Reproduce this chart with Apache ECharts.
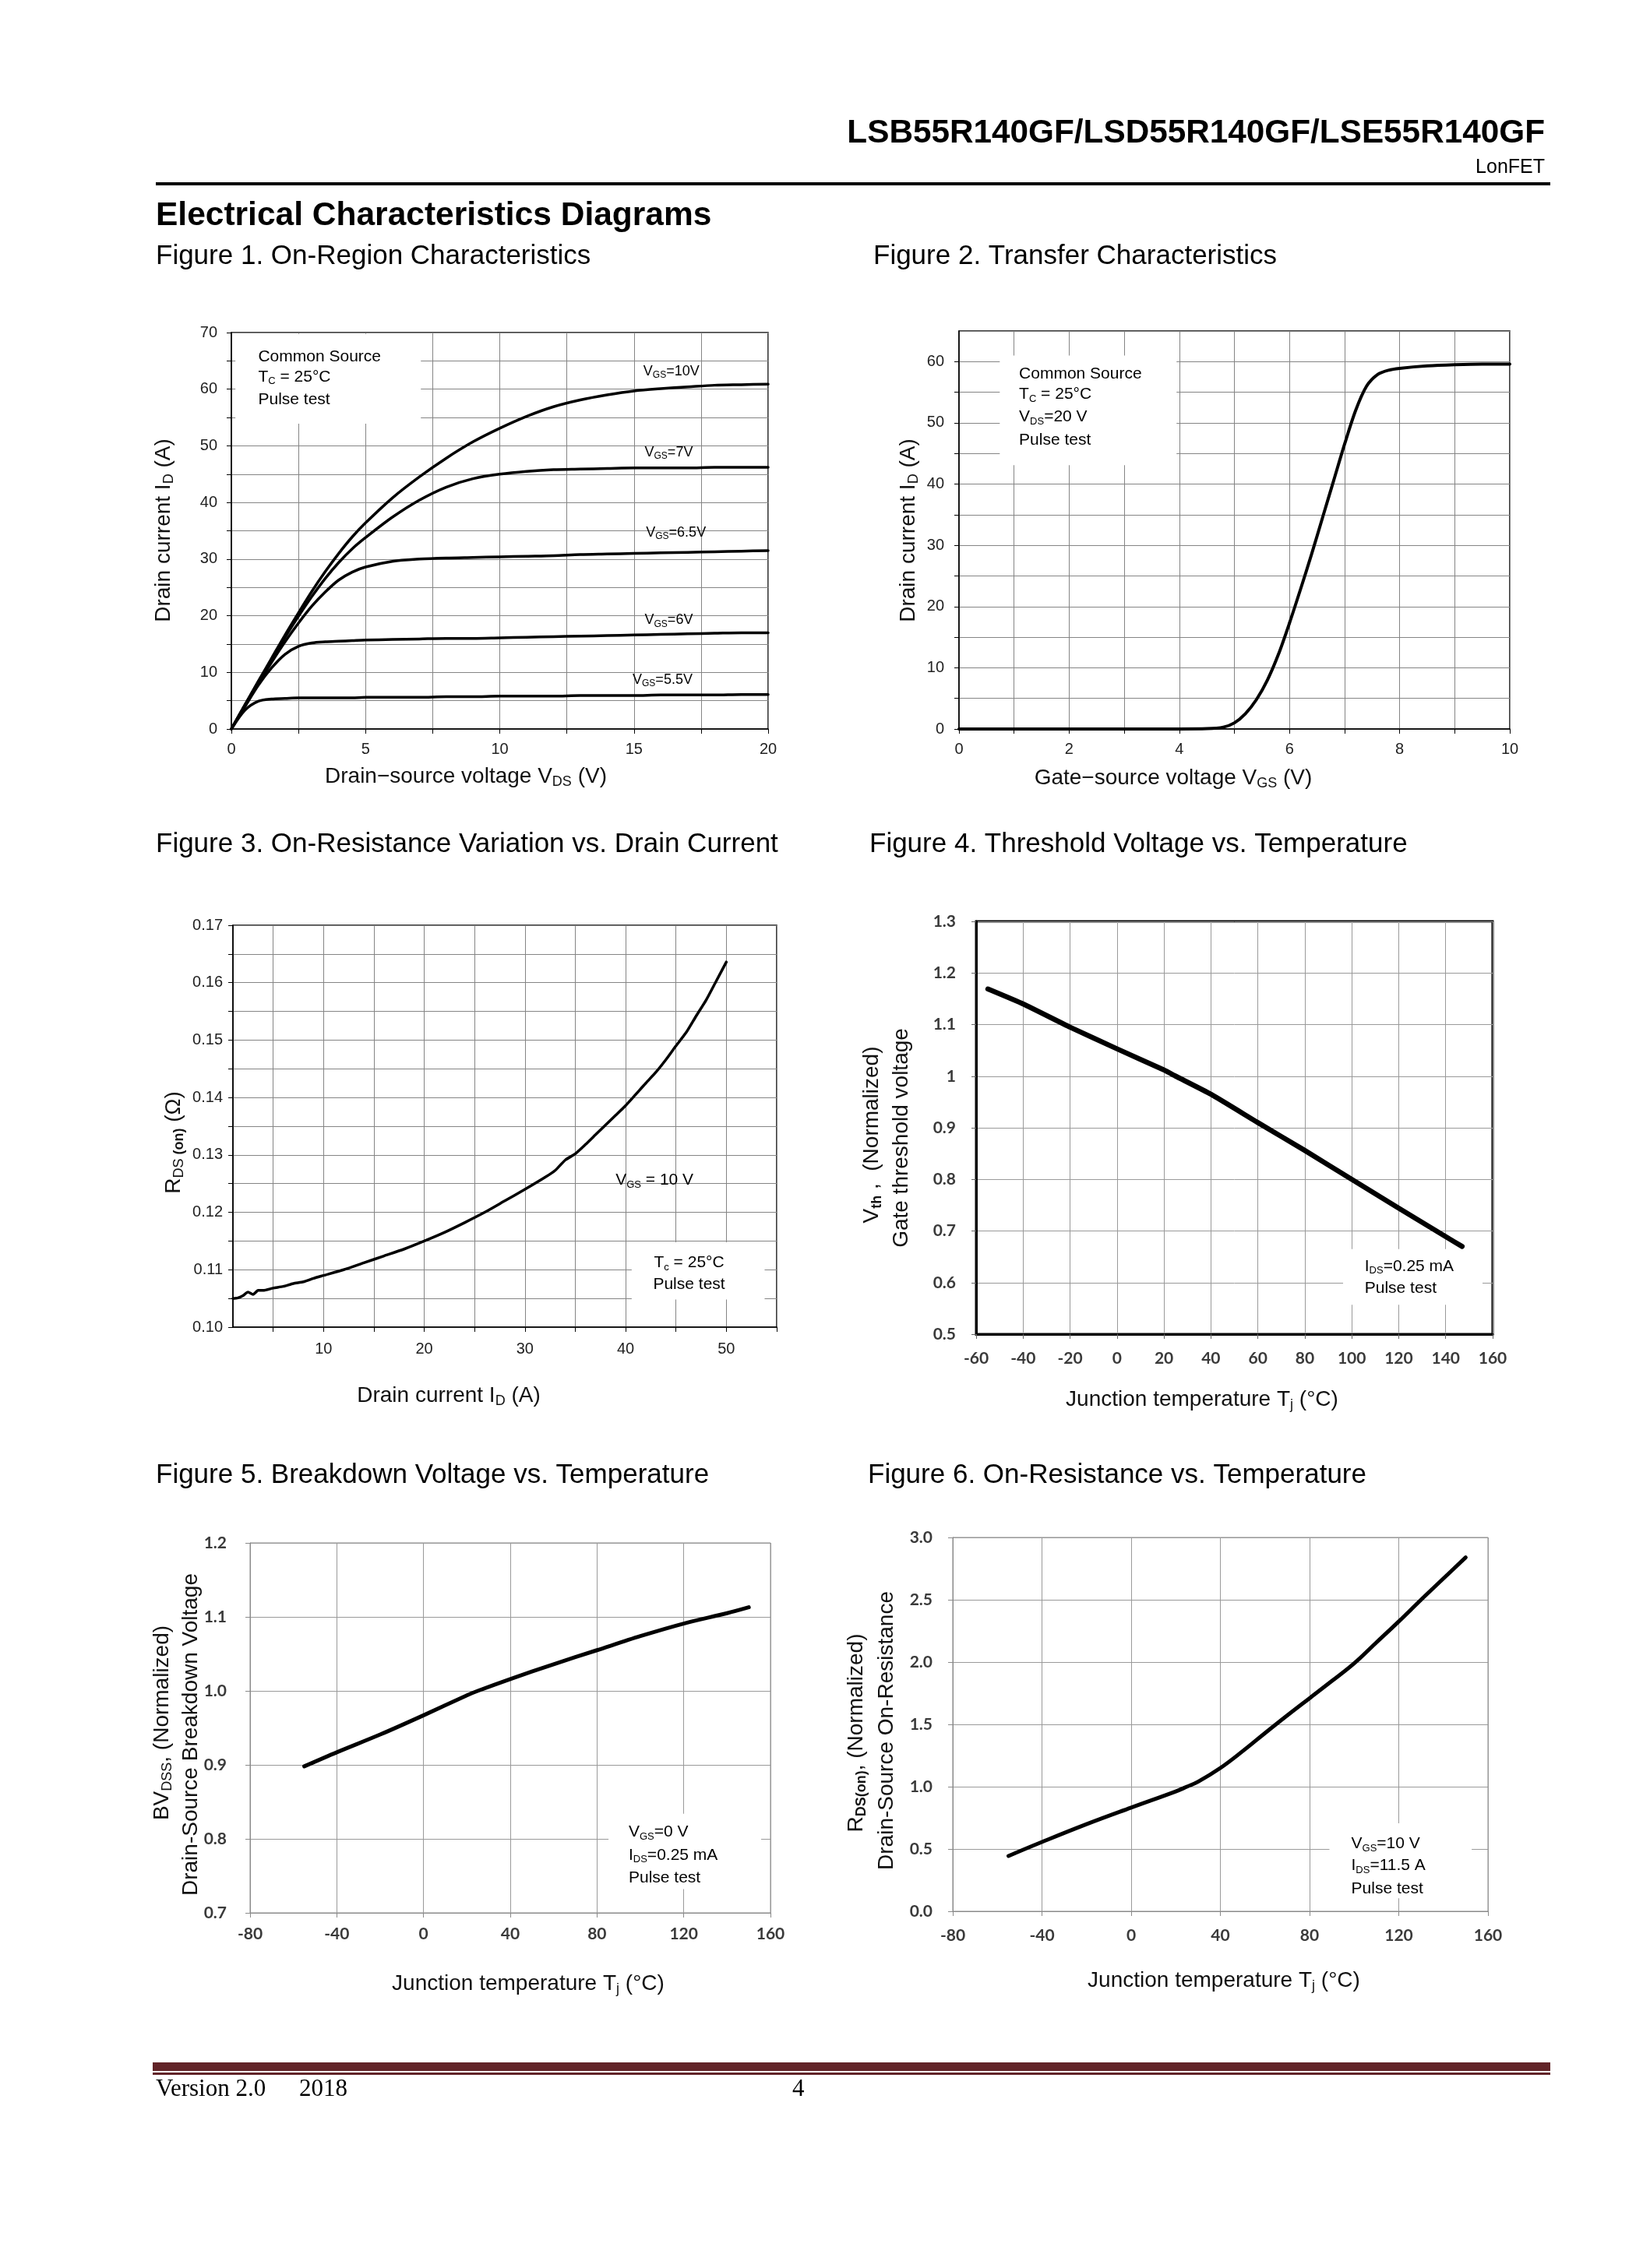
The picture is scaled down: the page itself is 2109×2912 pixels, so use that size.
<!DOCTYPE html>
<html><head><meta charset="utf-8">
<script src="https://cdn.jsdelivr.net/npm/echarts@6/dist/echarts.min.js"></script>
<style>html,body{margin:0;padding:0;background:#fff}#c{width:2109px;height:2912px}</style>
</head><body><div id="c"></div>
<script>
// ---------- DATA ----------
// Figure 1: On-region characteristics (VDS in V, ID in A)
const f1Vds   = [0,0.5,1,1.5,2,2.5,3,3.5,4,4.5,5,6,7,8,9,10,11,12,13,14,15,16,17,18,19,20];
const f1Vgs10 = [0,4.2,8.4,12.5,16.6,20.5,24.3,27.8,31.0,33.9,36.4,40.8,44.5,47.8,50.7,53.1,55.2,56.9,58.1,59.0,59.7,60.1,60.4,60.7,60.8,60.9];
const f1Vgs7  = [0,4.2,8.3,12.3,16.2,19.9,23.4,26.6,29.4,31.8,33.8,37.4,40.4,42.7,44.2,45.0,45.5,45.8,45.9,46.0,46.1,46.1,46.1,46.2,46.2,46.2];
const f1Vgs65 = [0,4.1,8.0,11.8,15.4,18.7,21.7,24.2,26.3,27.7,28.6,29.6,30.0,30.2,30.3,30.4,30.5,30.6,30.8,30.9,31.0,31.1,31.2,31.3,31.4,31.5];
const f1Vgs6  = [0,3.9,7.7,10.8,13.2,14.6,15.2,15.4,15.5,15.6,15.7,15.8,15.9,16.0,16.0,16.1,16.2,16.3,16.4,16.5,16.6,16.7,16.8,16.9,17.0,17.0];
const f1Vgs55 = [0,3.3,4.9,5.3,5.4,5.5,5.5,5.5,5.5,5.5,5.6,5.6,5.6,5.7,5.7,5.8,5.8,5.8,5.9,5.9,5.9,6.0,6.0,6.0,6.1,6.1];
const f1CurveNames = ['V{s|GS}=10V','V{s|GS}=7V','V{s|GS}=6.5V','V{s|GS}=6V','V{s|GS}=5.5V'];

// Figure 2: Transfer characteristics
const f2Vgs = [0,1,2,3,4,4.5,4.8,5.0,5.2,5.4,5.6,5.8,6.0,6.2,6.4,6.6,6.8,7.0,7.2,7.4,7.6,7.8,8.0,8.5,9.0,9.5,10];
const f2Id  = [0,0,0,0,0,0.05,0.3,1.0,2.5,4.8,8.0,12.2,17.3,22.8,28.5,34.5,40.5,46.5,52.0,56.0,57.9,58.6,58.9,59.3,59.5,59.6,59.6];

// Figure 3: RDS(on) vs drain current
const f3Id  = [1,1.5,2,2.5,3,3.5,4,5,6,7,8,9,10,12,14,16,18,20,22,24,26,28,30,32,33,34,35,36,37,38,39,40,42,43,44,45,46,47,48,49,50];
const f3Rds = [0.1050,0.1051,0.1055,0.1061,0.1057,0.1064,0.1064,0.1068,0.1071,0.1076,0.1079,0.1085,0.1090,0.1100,0.1112,0.1124,0.1136,0.1150,0.1165,0.1182,0.1200,0.1220,0.1240,0.1261,0.1273,0.1291,0.1302,0.1318,0.1335,0.1352,0.1369,0.1386,0.1425,0.1444,0.1466,0.1490,0.1513,0.1542,0.1570,0.1603,0.1636];

// Figure 4: Vth (normalized) vs Tj
const f4T   = [-55,-40,-20,0,20,25,40,60,80,100,120,140,147];
const f4Vth = [1.169,1.140,1.095,1.053,1.012,1.000,0.965,0.910,0.856,0.800,0.744,0.689,0.670];

// Figure 5: BVDSS (normalized) vs Tj
const f5T  = [-55,-40,-20,0,20,25,40,60,80,100,120,140,150];
const f5Bv = [0.898,0.917,0.941,0.967,0.994,1.000,1.016,1.036,1.055,1.074,1.091,1.105,1.113];

// Figure 6: RDS(on) (normalized) vs Tj
const f6T   = [-55,-40,-20,0,20,25,30,40,50,60,70,80,90,100,110,120,130,140,150];
const f6Rds = [0.444,0.556,0.699,0.832,0.962,1.000,1.040,1.150,1.285,1.430,1.572,1.710,1.848,1.990,2.158,2.326,2.500,2.670,2.840];

// ---------- LAYOUT / STYLE ----------
const SANS = "'Liberation Sans', Arial, sans-serif";
const LATO = "Lato, 'Open Sans', sans-serif";
const SERIF = "'Liberation Serif', 'DejaVu Serif', serif";

const chart = echarts.init(document.getElementById('c'), null, {renderer:'canvas', width:2109, height:2912});
const pairs = (xs, ys) => xs.map((x, i) => [x, ys[i]]);

const gridDefs = [
  {left:297,  top:427,  width:689, height:509, border:'#000', bw:1.5},
  {left:1231, top:425,  width:707, height:511, border:'#000', bw:1.5},
  {left:299,  top:1188, width:698, height:516, border:'#000', bw:1.5},
  {left:1253, top:1183, width:663, height:530, border:'#000', bw:3},
  {left:321,  top:1981, width:668, height:475, border:'#8a8a8a', bw:1},
  {left:1223, top:1974, width:687, height:480, border:'#8a8a8a', bw:1}
];

function ax(gi, o) {
  return {
    type:'value', gridIndex:gi, min:o.min, max:o.max, interval:o.interval,
    axisLine:{show:true, onZero:false, lineStyle:{color:o.lineColor, width:o.lineWidth}},
    axisTick:{show:true, inside:false, length:6, customValues:o.tickValues, lineStyle:{color:o.tickColor || o.lineColor, width:1}},
    axisLabel:{show:true, formatter:o.fmt, customValues:o.labelValues, margin:o.margin, fontSize:o.fs, fontFamily:o.ff, fontWeight:o.fw || 'normal', color:o.lc || '#222', showMaxLabel:o.showMax !== false},
    splitLine:{show:true, lineStyle:{color:o.gridColor, width:1}},
    z:1
  };
}
const every = (k) => (v) => (Math.abs(Math.round(v / k) * k - v) < 1e-9 ? String(Math.round(v * 1000) / 1000) : '');

const xAxes = [
  ax(0,{min:0,max:20,interval:2.5,lineColor:'#000',lineWidth:1.5,fmt:every(5),margin:16,fs:20,ff:SANS,gridColor:'#858585'}),
  ax(1,{min:0,max:10,interval:1,lineColor:'#000',lineWidth:1.5,fmt:every(2),margin:16,fs:20,ff:SANS,gridColor:'#858585'}),
  ax(2,{min:1,max:55,lineColor:'#000',lineWidth:1.5,tickValues:[5,10,15,20,25,30,35,40,45,50,55],labelValues:[10,20,30,40,50],margin:18,fs:20,ff:SANS,gridColor:'#858585'}),
  ax(3,{min:-60,max:160,interval:20,lineColor:'#000',lineWidth:3,tickColor:'#666',margin:21,fs:21,ff:LATO,fw:'bold',lc:'#3a3a3a',gridColor:'#9a9a9a'}),
  ax(4,{min:-80,max:160,interval:40,lineColor:'#8a8a8a',lineWidth:1,margin:17,fs:21,ff:LATO,fw:'bold',lc:'#3a3a3a',gridColor:'#9a9a9a'}),
  ax(5,{min:-80,max:160,interval:40,lineColor:'#8a8a8a',lineWidth:1,margin:21,fs:21,ff:LATO,fw:'bold',lc:'#3a3a3a',gridColor:'#9a9a9a'})
];
const yAxes = [
  ax(0,{min:0,max:70,interval:5,lineColor:'#000',lineWidth:1.5,fmt:every(10),margin:18,fs:20,ff:SANS,gridColor:'#858585'}),
  ax(1,{min:0,max:65,interval:5,lineColor:'#000',lineWidth:1.5,fmt:every(10),margin:19,fs:20,ff:SANS,gridColor:'#858585',showMax:false}),
  ax(2,{min:0.10,max:0.17,interval:0.005,lineColor:'#000',lineWidth:1.5,fmt:(v)=>{const k=Math.round(v*1000);return k%10===0?(k/1000).toFixed(2):'';},margin:13,fs:20,ff:SANS,gridColor:'#858585'}),
  ax(3,{min:0.5,max:1.3,interval:0.1,lineColor:'#000',lineWidth:3,tickColor:'#666',fmt:(v)=>String(Math.round(v*10)/10),margin:26,fs:21,ff:LATO,fw:'bold',lc:'#3a3a3a',gridColor:'#9a9a9a'}),
  ax(4,{min:0.7,max:1.2,interval:0.1,lineColor:'#8a8a8a',lineWidth:1,fmt:(v)=>v.toFixed(1),margin:30,fs:21,ff:LATO,fw:'bold',lc:'#3a3a3a',gridColor:'#9a9a9a'}),
  ax(5,{min:0,max:3,interval:0.5,lineColor:'#8a8a8a',lineWidth:1,fmt:(v)=>v.toFixed(1),margin:26,fs:21,ff:LATO,fw:'bold',lc:'#3a3a3a',gridColor:'#9a9a9a'})
];

function line(gi, data, w, smooth) {
  return {type:'line', xAxisIndex:gi, yAxisIndex:gi, data, symbol:'none', showSymbol:false, smooth:smooth, z:10,
    lineStyle:{color:'#000', width:w, cap:'round', join:'round'}, silent:true, animation:false};
}

const option = {
  backgroundColor:'#fff',
  animation:false,
  grid: gridDefs.map(g => ({left:g.left, top:g.top, width:g.width, height:g.height, show:true, borderColor:g.border, borderWidth:g.bw, backgroundColor:'transparent', containLabel:false, outerBoundsMode:'none'})),
  xAxis: xAxes,
  yAxis: yAxes,
  series: [
    line(0, pairs(f1Vds, f1Vgs10), 3.5, 0.3),
    line(0, pairs(f1Vds, f1Vgs7), 3.5, 0.3),
    line(0, pairs(f1Vds, f1Vgs65), 3.5, 0.3),
    line(0, pairs(f1Vds, f1Vgs6), 3.5, 0.3),
    line(0, pairs(f1Vds, f1Vgs55), 3.5, 0.3),
    line(1, pairs(f2Vgs, f2Id), 4, 0.3),
    line(2, pairs(f3Id, f3Rds), 3.5, 0.2),
    line(3, pairs(f4T, f4Vth), 6.5, 0.15),
    line(4, pairs(f5T, f5Bv), 5, 0.3),
    line(5, pairs(f6T, f6Rds), 5, 0.4)
  ]
};
chart.setOption(option);

// ---------- TEXT & ANNOTATIONS ----------
function T(x, y, text, o) {
  o = o || {};
  const size = o.size || 28, fam = o.family || SANS, fill = o.color || '#000';
  const sub = Math.round(size * 0.64), pad = Math.round(size * 0.55);
  return {type:'text', x, y, rotation:o.rot || 0, z:o.z || 20, silent:true,
    style:{text, fill, fontSize:size, fontFamily:fam, fontWeight:o.weight || 'normal',
      align:o.align || 'left', verticalAlign:o.va || 'middle',
      rich:{
        s:{fontSize:sub, fontFamily:fam, fill, padding:[pad,0,0,0]},
        b:{fontSize:sub, fontFamily:fam, fontWeight:'bold', fill, padding:[pad,0,0,0]}
      }}};
}
const px = (gi, x, y) => chart.convertToPixel({gridIndex:gi}, [x, y]);
function TD(gi, x, y, text, o) { const p = px(gi, x, y); return T(p[0], p[1], text, o); }
function box(gi, b) {
  const p0 = px(gi, b[0], b[1]), p1 = px(gi, b[2], b[3]);
  return {type:'rect', z:5, silent:true,
    shape:{x:Math.min(p0[0], p1[0]), y:Math.min(p0[1], p1[1]), width:Math.abs(p1[0]-p0[0]), height:Math.abs(p1[1]-p0[1])},
    style:{fill:'#fff'}};
}

// annotation anchors in data coordinates
const f1Box = [0.15, 53.9, 7.06, 69.75];
const f1Notes = [['Common Source', 1.0, 65.7], ['T{s|C} = 25°C', 1.0, 62.2], ['Pulse test', 1.0, 58.2]];
const f1LabelPos = [[15.35, 63.1], [15.4, 48.8], [15.45, 34.7], [15.4, 19.2], [14.95, 8.7]];
const f2Box = [0.74, 43.1, 3.95, 61.0];
const f2Notes = [['Common Source', 1.09, 58.0], ['T{s|C} = 25°C', 1.09, 54.7], ['V{s|DS}=20 V', 1.09, 51.0], ['Pulse test', 1.09, 47.2]];
const f3Box = [40.6, 0.1048, 53.8, 0.1148];
const f3NotesC = [['T{s|c} = 25°C', 46.3, 0.1112], ['Pulse test', 46.3, 0.1074]];
const f3Vgs = ['V{s|GS} = 10 V', 39.0, 0.1256];
const f4Box = [96.3, 0.557, 155.7, 0.665];
const f4Notes = [['I{s|DS}=0.25 mA', 105.5, 0.6316], ['Pulse test', 105.5, 0.5886]];
const f5Box = [85.3, 0.732, 155.7, 0.834];
const f5Notes = [['V{s|GS}=0 V', 94.6, 0.809], ['I{s|DS}=0.25 mA', 94.6, 0.778], ['Pulse test', 94.6, 0.747]];
const f6Box = [88.9, 0.105, 152.7, 0.707];
const f6Notes = [['V{s|GS}=10 V', 98.7, 0.544], ['I{s|DS}=11.5 A', 98.7, 0.368], ['Pulse test', 98.7, 0.18]];

const R = Math.PI / 2;
const g = [];
// header
g.push(T(1983, 171, 'LSB55R140GF/LSD55R140GF/LSE55R140GF', {size:42.3, weight:'bold', align:'right'}));
g.push(T(1983, 215, 'LonFET', {size:25, align:'right'}));
g.push({type:'rect', z:20, silent:true, shape:{x:200, y:234, width:1790, height:4}, style:{fill:'#000'}});
g.push(T(200, 277, 'Electrical Characteristics Diagrams', {size:42.5, weight:'bold'}));
// figure titles
g.push(T(200, 329, 'Figure 1. On-Region Characteristics', {size:35}));
g.push(T(1121, 329, 'Figure 2. Transfer Characteristics', {size:35}));
g.push(T(200, 1084, 'Figure 3. On-Resistance Variation vs. Drain Current', {size:35}));
g.push(T(1116, 1084, 'Figure 4. Threshold Voltage vs. Temperature', {size:35}));
g.push(T(200, 1894, 'Figure 5. Breakdown Voltage vs. Temperature', {size:35}));
g.push(T(1114, 1894, 'Figure 6. On-Resistance vs. Temperature', {size:35}));
// axis titles
g.push(T(210, 681, 'Drain current I{s|D} (A)', {rot:R, align:'center', color:'#111'}));
g.push(T(598, 997, 'Drain\u2212source voltage V{s|DS} (V)', {align:'center', color:'#111'}));
g.push(T(1166, 681, 'Drain current I{s|D} (A)', {rot:R, align:'center', color:'#111'}));
g.push(T(1506, 999, 'Gate\u2212source voltage V{s|GS} (V)', {align:'center', color:'#111'}));
g.push(T(223, 1467, 'R{s|DS}{b| (on)} (\u03A9)', {rot:R, align:'center', color:'#111'}));
g.push(T(576, 1792, 'Drain current I{s|D} (A)', {align:'center', color:'#111'}));
g.push(T(1119, 1457, 'V{b|th} ,  (Normalized)', {rot:R, align:'center', color:'#111'}));
g.push(T(1157, 1461, 'Gate threshold voltage', {rot:R, align:'center', color:'#111'}));
g.push(T(1543, 1797, 'Junction temperature T{s|j} (°C)', {align:'center', color:'#111'}));
g.push(T(208, 2212, 'BV{s|DSS}, (Normalized)', {rot:R, align:'center', color:'#111'}));
g.push(T(245, 2227, 'Drain-Source Breakdown Voltage', {rot:R, align:'center', color:'#111'}));
g.push(T(678, 2547, 'Junction temperature T{s|j} (°C)', {align:'center', color:'#111'}));
g.push(T(1099, 2225, 'R{b|DS(on)}, (Normalized)', {rot:R, align:'center', color:'#111'}));
g.push(T(1138, 2222, 'Drain-Source On-Resistance', {rot:R, align:'center', color:'#111'}));
g.push(T(1571, 2543, 'Junction temperature T{s|j} (°C)', {align:'center', color:'#111'}));
// annotation boxes + notes
g.push(box(0, f1Box)); f1Notes.forEach(n => g.push(TD(0, n[1], n[2], n[0], {size:21})));
f1LabelPos.forEach((p, i) => g.push(TD(0, p[0], p[1], f1CurveNames[i], {size:18})));
g.push(box(1, f2Box)); f2Notes.forEach(n => g.push(TD(1, n[1], n[2], n[0], {size:21})));
g.push(box(2, f3Box)); f3NotesC.forEach(n => g.push(TD(2, n[1], n[2], n[0], {size:21, align:'center'})));
g.push(TD(2, f3Vgs[1], f3Vgs[2], f3Vgs[0], {size:21}));
g.push(box(3, f4Box)); f4Notes.forEach(n => g.push(TD(3, n[1], n[2], n[0], {size:21})));
g.push(box(4, f5Box)); f5Notes.forEach(n => g.push(TD(4, n[1], n[2], n[0], {size:21})));
g.push(box(5, f6Box)); f6Notes.forEach(n => g.push(TD(5, n[1], n[2], n[0], {size:21})));
// footer
g.push({type:'rect', z:20, silent:true, shape:{x:196, y:2648, width:1794, height:11}, style:{fill:'#612327'}});
g.push({type:'rect', z:20, silent:true, shape:{x:196, y:2661, width:1794, height:3}, style:{fill:'#612327'}});
g.push(T(200, 2683, 'Version 2.0', {size:31, family:SERIF}));
g.push(T(384, 2683, '2018', {size:31, family:SERIF}));
g.push(T(1017, 2683, '4', {size:31, family:SERIF}));

chart.setOption({graphic: g});
</script>
</body></html>
